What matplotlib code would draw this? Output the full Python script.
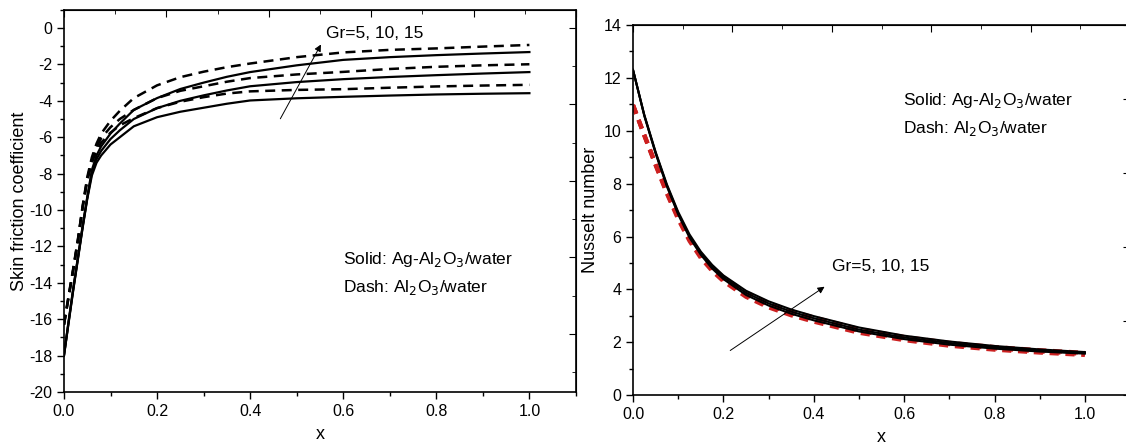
import numpy as np
import matplotlib.pyplot as plt
from matplotlib.ticker import MultipleLocator

plt.rcParams['font.family'] = ['Liberation Sans', 'DejaVu Sans']
plt.rcParams['axes.unicode_minus'] = False

# skin friction panel
x_cf = [0, 0.01, 0.02, 0.03, 0.04, 0.05, 0.06, 0.07, 0.08, 0.1, 0.12, 0.15,
        0.2, 0.25, 0.3, 0.35, 0.4, 0.5, 0.6, 0.7, 0.8, 0.9, 1.0]
cf_solid_gr5 = [-18.0, -16.2, -14.4, -12.7, -11.0, -9.4, -8.1, -7.4, -7.0, -6.4, -6.0, -5.4,
                -4.9, -4.6, -4.38, -4.16, -3.98, -3.86, -3.78, -3.71, -3.65, -3.61, -3.58]
cf_solid_gr10 = [-18.0, -16.15, -14.35, -12.65, -10.95, -9.35, -7.95, -7.2, -6.75, -6.1, -5.62, -5.0,
                 -4.4, -4.0, -3.7, -3.43, -3.2, -2.97, -2.81, -2.69, -2.59, -2.5, -2.42]
cf_solid_gr15 = [-18.0, -16.1, -14.3, -12.6, -10.9, -9.3, -7.8, -7.0, -6.5, -5.8, -5.25, -4.5,
                 -3.85, -3.35, -3.0, -2.68, -2.42, -2.05, -1.75, -1.6, -1.49, -1.4, -1.32]
cf_dash_gr5 = [-16.3, -14.8, -13.3, -11.7, -9.9, -8.4, -7.4, -6.75, -6.3, -5.75, -5.35, -4.95,
               -4.4, -4.05, -3.8, -3.6, -3.48, -3.4, -3.36, -3.28, -3.21, -3.16, -3.12]
cf_dash_gr10 = [-16.3, -14.75, -13.25, -11.65, -9.85, -8.3, -7.25, -6.55, -6.05, -5.45, -5.0, -4.5,
                -3.85, -3.45, -3.2, -2.95, -2.75, -2.55, -2.41, -2.25, -2.13, -2.05, -1.99]
cf_dash_gr15 = [-16.3, -14.7, -13.2, -11.6, -9.8, -8.2, -7.1, -6.35, -5.8, -5.1, -4.55, -3.85,
                -3.15, -2.7, -2.4, -2.15, -1.95, -1.6, -1.34, -1.2, -1.12, -1.02, -0.93]

# Nusselt panel
x_nu = [0, 0.025, 0.05, 0.075, 0.1, 0.125, 0.15, 0.175, 0.2, 0.25, 0.3, 0.35, 0.4,
        0.5, 0.6, 0.7, 0.8, 0.9, 1.0]
nu_solid_gr5 = [12.3, 10.56, 9.14, 7.89, 6.83, 5.96, 5.31, 4.79, 4.39, 3.79, 3.39, 3.08, 2.83,
                2.41, 2.12, 1.91, 1.76, 1.65, 1.57]
nu_solid_gr10 = [12.3, 10.58, 9.17, 7.93, 6.88, 6.02, 5.37, 4.86, 4.46, 3.87, 3.47, 3.16, 2.91,
                 2.48, 2.18, 1.97, 1.81, 1.69, 1.6]
nu_solid_gr15 = [12.3, 10.6, 9.2, 7.97, 6.93, 6.08, 5.43, 4.93, 4.53, 3.95, 3.55, 3.24, 2.99,
                 2.56, 2.25, 2.03, 1.86, 1.73, 1.63]
nu_dash_gr5 = [10.97, 9.81, 8.69, 7.62, 6.65, 5.83, 5.19, 4.7, 4.31, 3.72, 3.32, 3.02, 2.78,
               2.36, 2.08, 1.87, 1.72, 1.61, 1.52]
nu_dash_gr10 = [10.97, 9.83, 8.72, 7.66, 6.7, 5.89, 5.26, 4.77, 4.38, 3.8, 3.4, 3.1, 2.86,
                2.43, 2.14, 1.93, 1.77, 1.65, 1.56]
nu_dash_gr15 = [10.97, 9.85, 8.75, 7.7, 6.75, 5.95, 5.33, 4.84, 4.45, 3.88, 3.48, 3.18, 2.94,
                2.5, 2.2, 1.98, 1.82, 1.7, 1.6]

gr_label = "Gr=5, 10, 15"
solid_label = "Solid: Ag-Al$_2$O$_3$/water"
dash_label = "Dash: Al$_2$O$_3$/water"


def style_axes(ax, top_step, right_step):
    ax.tick_params(which='both', direction='out', top=False, right=False, labelsize=11.5)
    ax.tick_params(which='major', length=5, width=1)
    ax.tick_params(which='minor', length=3, width=1)
    for s in ax.spines.values():
        s.set_linewidth(1.2)
    xl = ax.get_xlim()
    yl = ax.get_ylim()
    top = ax.secondary_xaxis('top')
    top.xaxis.set_major_locator(MultipleLocator(top_step * 2))
    top.xaxis.set_minor_locator(MultipleLocator(top_step))
    top.tick_params(which='both', direction='in', labeltop=False)
    top.tick_params(which='major', length=5)
    top.tick_params(which='minor', length=3)
    right = ax.secondary_yaxis('right')
    right.yaxis.set_major_locator(MultipleLocator(right_step * 2))
    right.yaxis.set_minor_locator(MultipleLocator(right_step))
    right.tick_params(which='both', direction='in', labelright=False)
    right.tick_params(which='major', length=5)
    right.tick_params(which='minor', length=3)
    ax.set_xlim(xl)
    ax.set_ylim(yl)


fig = plt.figure(figsize=(11.26, 4.47), dpi=100)

# left panel
ax1 = fig.add_axes([0.0568, 0.123, 0.4547, 0.855])
for ys in [cf_solid_gr5, cf_solid_gr10, cf_solid_gr15]:
    ax1.plot(x_cf, ys, color='black', lw=1.6)
for ys in [cf_dash_gr5, cf_dash_gr10, cf_dash_gr15]:
    ax1.plot(x_cf, ys, color='black', lw=1.8, dashes=(4, 2.6))
ax1.set_xlim(0, 1.1)
ax1.set_ylim(-20, 1)
ax1.xaxis.set_minor_locator(MultipleLocator(0.1))
ax1.yaxis.set_major_locator(MultipleLocator(2))
ax1.yaxis.set_minor_locator(MultipleLocator(1))
ax1.set_xticks([0, 0.2, 0.4, 0.6, 0.8, 1.0])
ax1.set_xticklabels(['0.0', '0.2', '0.4', '0.6', '0.8', '1.0'])
ax1.set_xlabel('x', fontsize=13, labelpad=5)
ax1.set_ylabel('Skin friction coefficient', fontsize=13, labelpad=1)
ax1.annotate('', xy=(0.555, -0.77), xytext=(0.462, -5.12),
             arrowprops=dict(arrowstyle='-|>', color='black', lw=0.7, mutation_scale=10))
ax1.text(0.562, -0.3, gr_label, fontsize=12.5, va='center', ha='left')
ax1.text(0.6, -12.73, solid_label, fontsize=12.5, va='center', ha='left')
ax1.text(0.6, -14.27, dash_label, fontsize=12.5, va='center', ha='left')
style_axes(ax1, 0.11, 2.1)

# right panel
ax2 = fig.add_axes([0.5622, 0.116, 0.4414, 0.828])
for ys in [nu_dash_gr5, nu_dash_gr10, nu_dash_gr15]:
    ax2.plot(x_nu, ys, color='#cc2020', lw=3, dashes=(2.2, 1.6))
for ys in [nu_solid_gr5, nu_solid_gr10, nu_solid_gr15]:
    ax2.plot(x_nu, ys, color='black', lw=1.5)
ax2.set_xlim(0, 1.1)
ax2.set_ylim(0, 14)
ax2.xaxis.set_minor_locator(MultipleLocator(0.1))
ax2.yaxis.set_major_locator(MultipleLocator(2))
ax2.yaxis.set_minor_locator(MultipleLocator(1))
ax2.set_xticks([0, 0.2, 0.4, 0.6, 0.8, 1.0])
ax2.set_xticklabels(['0.0', '0.2', '0.4', '0.6', '0.8', '1.0'])
ax2.set_xlabel('x', fontsize=13, labelpad=5)
ax2.set_ylabel('Nusselt number', fontsize=13, labelpad=3)
ax2.annotate('', xy=(0.429, 4.16), xytext=(0.21, 1.63),
             arrowprops=dict(arrowstyle='-|>', color='black', lw=0.7, mutation_scale=10))
ax2.text(0.44, 4.85, gr_label, fontsize=12.5, va='center', ha='left')
ax2.text(0.597, 11.16, solid_label, fontsize=12.5, va='center', ha='left')
ax2.text(0.597, 10.1, dash_label, fontsize=12.5, va='center', ha='left')
style_axes(ax2, 0.11, 1.4)

fig.savefig('out.png', dpi=100)
